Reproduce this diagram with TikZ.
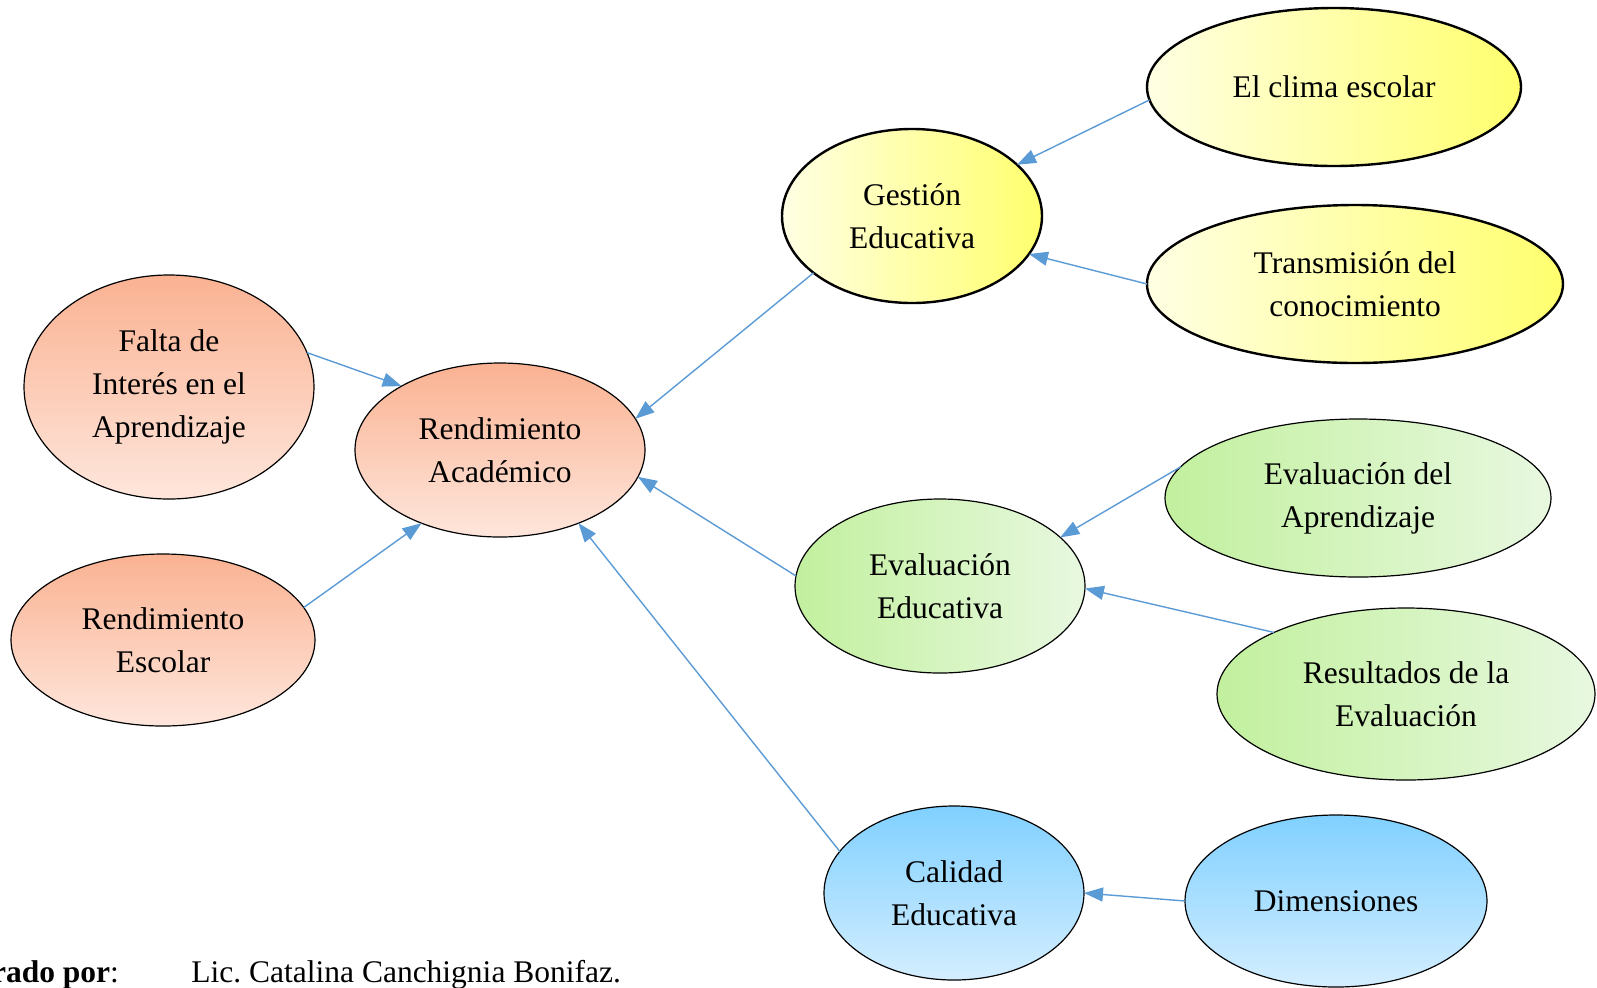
\documentclass[tikz,border=0pt]{standalone}
\usepackage{fontspec}
\setmainfont{Liberation Serif}
\usepackage{tikz}
\usetikzlibrary{positioning,shapes.geometric,arrows.meta}

\definecolor{arrowblue}{RGB}{91,155,213}
\definecolor{salmontop}{RGB}{250,178,146}
\definecolor{salmonbot}{RGB}{254,230,220}
\definecolor{lemonleft}{RGB}{255,255,228}
\definecolor{lemonright}{RGB}{255,255,110}
\definecolor{leafleft}{RGB}{194,240,158}
\definecolor{leafright}{RGB}{232,248,224}
\definecolor{skytop}{RGB}{128,208,255}
\definecolor{skybot}{RGB}{212,238,255}

\tikzset{
  blob/.style={ellipse, draw=black, line width=0.6pt, inner sep=0pt, outer sep=0pt,
    align=center, font=\fontsize{15.75}{21.5}\selectfont},
  salmon/.style={blob, top color=salmontop, bottom color=salmonbot},
  lemon/.style={blob, line width=1.2pt, left color=lemonleft, right color=lemonright},
  leaf/.style={blob, left color=leafleft, right color=leafright},
  sky/.style={blob, top color=skytop, bottom color=skybot},
  feed/.style={draw=arrowblue, line width=0.7pt, -{Triangle[length=9.5pt,width=7pt]}}
}

\begin{document}
\frenchspacing
\begin{tikzpicture}[x=0.5pt, y=-0.5pt]
  \useasboundingbox (0,0) rectangle (1597,987);
  \clip (0,0) rectangle (1597,987);

  % Define nodes
  \node[salmon, minimum width=145pt, minimum height=87pt] (rend) at (500,450) {Rendimiento\\Académico};
  \node[salmon, minimum width=145pt, minimum height=112pt, left=20.5pt of rend, yshift=31.5pt] (falta) {Falta de\\Interés en el\\Aprendizaje};
  \node[salmon, minimum width=152pt, minimum height=86pt, left=20pt of rend, yshift=-95pt] (escolar) {Rendimiento\\Escolar};

  \node[lemon, minimum width=130pt, minimum height=87pt, right=68.5pt of rend, yshift=117pt] (gest) {Gestión\\Educativa};
  \node[leaf, minimum width=145pt, minimum height=87pt, right=75pt of rend, yshift=-68pt] (evaled) {Evaluación\\Educativa};
  \node[sky, minimum width=130pt, minimum height=87pt, right=89.5pt of rend, yshift=-221.5pt] (cal) {Calidad\\Educativa};

  \node[lemon, minimum width=187pt, minimum height=79pt, right=52.5pt of gest, yshift=64.5pt] (clima) {El clima escolar};
  \node[lemon, minimum width=208pt, minimum height=79pt, right=52.5pt of gest, yshift=-34pt] (trans) {Transmisión del\\conocimiento};
  \node[leaf, minimum width=193pt, minimum height=79pt, right=40pt of evaled, yshift=44pt] (evalap) {Evaluación del\\Aprendizaje};
  \node[leaf, minimum width=189pt, minimum height=86pt, right=66pt of evaled, yshift=-54pt] (res) {Resultados de la\\Evaluación};
  \node[sky, minimum width=151pt, minimum height=86pt, right=50.5pt of cal, yshift=-4pt] (dim) {Dimensiones};

  \node[anchor=base east, font=\fontsize{15.75}{21.5}\selectfont] (elab) at (126,982) {\textbf{Elaborado por}:};
  \node[base right=32.5pt of elab, inner sep=0pt, font=\fontsize{15.75}{21.5}\selectfont] (autor) {Lic. Catalina Canchignia Bonifaz.};

  % Connect the nodes
  \draw[feed] (falta.14) -- (rend.147);
  \draw[feed] (escolar.13) -- (rend.223);
  \draw[feed] (gest.210) -- (rend.13);
  \draw[feed] (evaled.176) -- (rend.-11);
  \draw[feed] (cal.160) -- (rend.-43);
  \draw[feed] (clima.184) -- (gest.26);
  \draw[feed] (trans.west) -- (gest.-18);
  \draw[feed] (evalap.170) -- (evaled.22);
  \draw[feed] (res.155) -- (evaled.-1);
  \draw[feed] (dim.west) -- (cal.east);
\end{tikzpicture}
\end{document}
